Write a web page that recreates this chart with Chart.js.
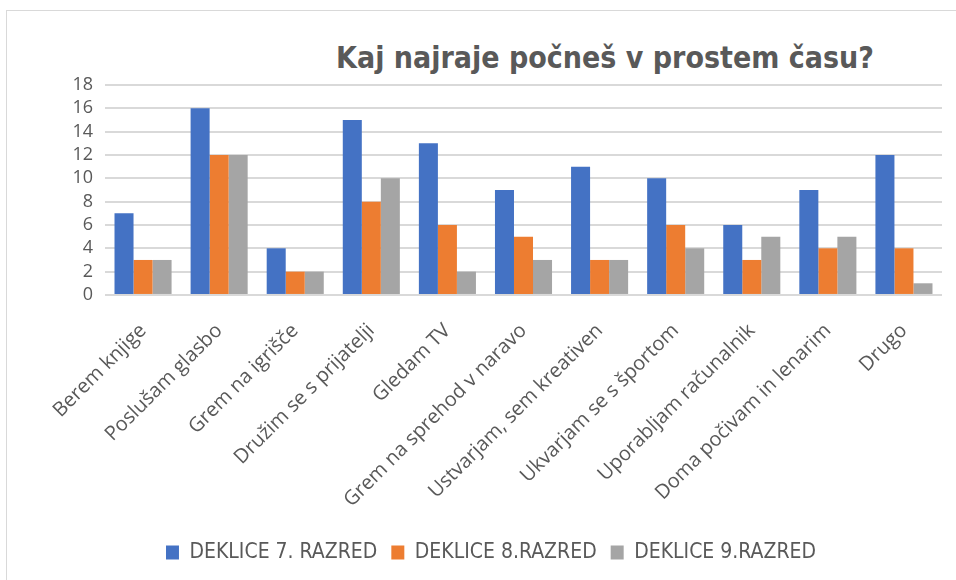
<!DOCTYPE html>
<html>
<head>
<meta charset="utf-8">
<script src="https://cdn.jsdelivr.net/npm/chart.js@4"></script>
<style>
  body { margin: 0; background: #fff; }
  #frame { position: absolute; left: 6px; top: 10px; width: 1000px; height: 1000px; border: 1px solid #d9d9d9; }
  #title { position: absolute; left: 0; width: 956px; top: 40px; text-align: center; padding-left: 254px; box-sizing: border-box;
           font-family: "Liberation Sans Narrow", "DejaVu Sans Condensed", sans-serif; font-weight: bold; font-size: 30px; color: #595959; }
  #wrap { position: absolute; left: 0; top: 0; width: 956px; height: 580px; }
</style>
</head>
<body>
<div id="frame"></div>
<div id="title">Kaj najraje počneš v prostem času?</div>
<div id="wrap"><canvas id="chart" width="956" height="580"></canvas></div>
<script>
const categories = ["Berem knjige", "Poslušam glasbo", "Grem na igrišče", "Družim se s prijatelji", "Gledam TV",
  "Grem na sprehod v naravo", "Ustvarjam, sem kreativen", "Ukvarjam se s športom", "Uporabljam računalnik",
  "Doma počivam in lenarim", "Drugo"];
const grade7 = [7, 16, 4, 15, 13, 9, 11, 10, 6, 9, 12];
const grade8 = [3, 12, 2, 8, 6, 5, 3, 6, 3, 4, 4];
const grade9 = [3, 12, 2, 10, 2, 3, 3, 4, 5, 5, 1];
const seriesNames = ["DEKLICE 7. RAZRED", "DEKLICE 8.RAZRED", "DEKLICE 9.RAZRED"];
const colors = ["#4472C4", "#ED7D31", "#A5A5A5"];

const ctx = document.getElementById('chart').getContext('2d');
new Chart(ctx, {
  type: 'bar',
  data: {
    labels: categories,
    datasets: [grade7, grade8, grade9].map((d, i) => ({
      label: seriesNames[i], data: d, backgroundColor: colors[i],
      categoryPercentage: 0.75, barPercentage: 1
    }))
  },
  options: {
    responsive: false,
    animation: false,
    layout: { padding: { top: 85, left: 40, right: 14, bottom: 7 } },
    plugins: {
      legend: {
        position: 'bottom',
        labels: {
          boxWidth: 13, boxHeight: 14, padding: 14, color: '#595959',
          font: { family: '"Liberation Sans Narrow", "DejaVu Sans Condensed", sans-serif', size: 21 }
        }
      },
      tooltip: { enabled: false }
    },
    scales: {
      x: {
        grid: { display: false },
        border: { display: false },
        ticks: { color: '#595959', padding: 16, autoSkip: false, minRotation: 45, maxRotation: 45, font: { family: '"Open Sans"', size: 20 } }
      },
      y: {
        min: 0, max: 18,
        ticks: { stepSize: 2, autoSkip: false, color: '#595959', padding: 12, font: { family: '"Open Sans"', size: 18 } },
        grid: { color: '#d9d9d9', lineWidth: 2, drawTicks: false },
        border: { display: false },
        afterFit: s => { s.width = 65; }
      }
    }
  }
});
</script>
</body>
</html>
